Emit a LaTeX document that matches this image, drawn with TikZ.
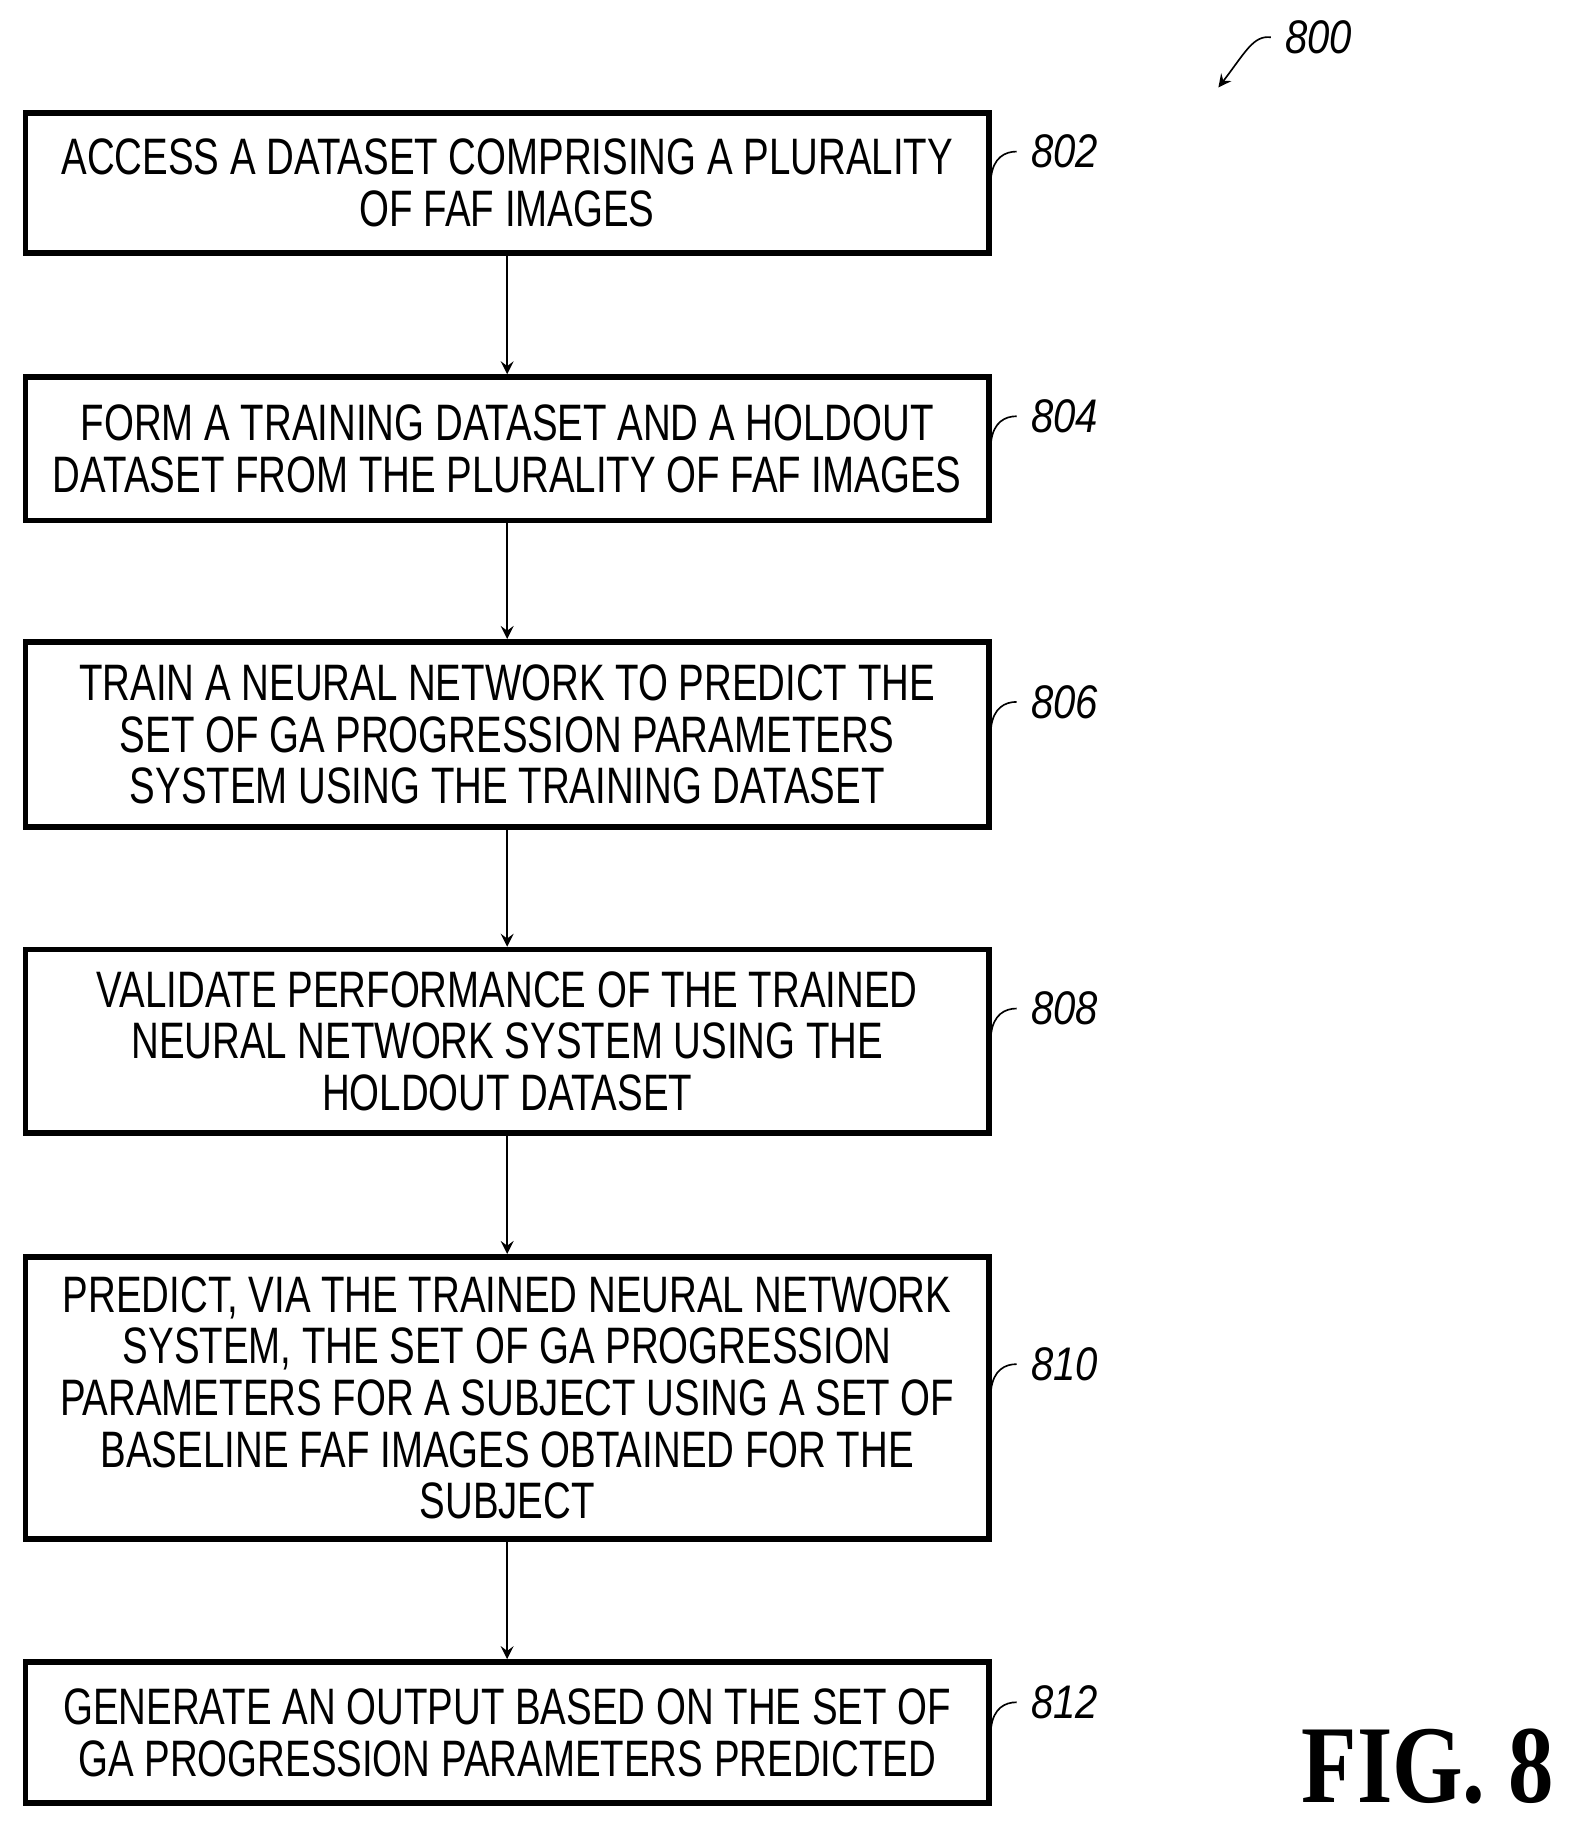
\documentclass[tikz,border=0pt]{standalone}
\usepackage{fontspec}
\setmainfont{Liberation Serif}
\newfontfamily\boxfont[FakeStretch=0.75]{Liberation Sans}
\newfontfamily\reffont[FakeStretch=0.85]{Liberation Sans}
\newfontfamily\figfont[FakeStretch=0.82]{Liberation Serif}
\usetikzlibrary{positioning}
\tikzset{
  stepbox/.style={draw, line width=1.4pt, minimum width=8.26cm, align=center,
    font=\boxfont\fontsize{12.5}{12.6}\selectfont, inner sep=0pt},
  reflbl/.style={font=\reffont\itshape\fontsize{11.5}{12}\selectfont, anchor=west},
  flow/.style={->, >=stealth, thin}
}
\begin{document}
\begin{tikzpicture}[x=0.01cm,y=-0.01cm]
        \useasboundingbox (0,0) rectangle (1360,1567);

        % Schritte
        \node[stepbox, minimum height=1.20cm] (s802) at (435,157) {ACCESS A DATASET COMPRISING A PLURALITY\\OF FAF IMAGES};
        \node[stepbox, minimum height=1.23cm] (s804) at (435,385) {FORM A TRAINING DATASET AND A HOLDOUT\\DATASET FROM THE PLURALITY OF FAF IMAGES};
        \node[stepbox, minimum height=1.59cm] (s806) at (435,630) {TRAIN A NEURAL NETWORK TO PREDICT THE\\SET OF GA PROGRESSION PARAMETERS\\SYSTEM USING THE TRAINING DATASET};
        \node[stepbox, minimum height=1.57cm] (s808) at (435,893) {VALIDATE PERFORMANCE OF THE TRAINED\\NEURAL NETWORK SYSTEM USING THE\\HOLDOUT DATASET};
        \node[stepbox, minimum height=2.42cm] (s810) at (435,1199) {PREDICT, VIA THE TRAINED NEURAL NETWORK\\SYSTEM, THE SET OF GA PROGRESSION\\PARAMETERS FOR A SUBJECT USING A SET OF\\BASELINE FAF IMAGES OBTAINED FOR THE\\SUBJECT};
        \node[stepbox, minimum height=1.21cm] (s812) at (435,1486) {GENERATE AN OUTPUT BASED ON THE SET OF\\GA PROGRESSION PARAMETERS PREDICTED};

        % Pfeile
        \draw[flow] (s802) -- (s804);
        \draw[flow] (s804) -- (s806);
        \draw[flow] (s806) -- (s808);
        \draw[flow] (s808) -- (s810);
        \draw[flow] (s810) -- (s812);

        % Bezugszeichen
        \foreach \n/\y in {802/130, 804/357, 806/602, 808/865, 810/1170, 812/1460} {
            \node[reflbl] (l\n) at (872,\y) {\n};
            \draw (850,\y+22) .. controls (852,\y+5) and (862,\y) .. (l\n.west);
        }

        \node[reflbl] (l800) at (1090,32) {800};
        \coordinate (t800) at (1045,75);
        \draw[->, >=stealth] (l800.west) .. controls (1075,30) and (1068,45) .. (t800);

        \node[font=\figfont\bfseries\fontsize{27}{30}\selectfont, anchor=east] (fig) at (1345,1515) {FIG. 8};
\end{tikzpicture}
\end{document}
